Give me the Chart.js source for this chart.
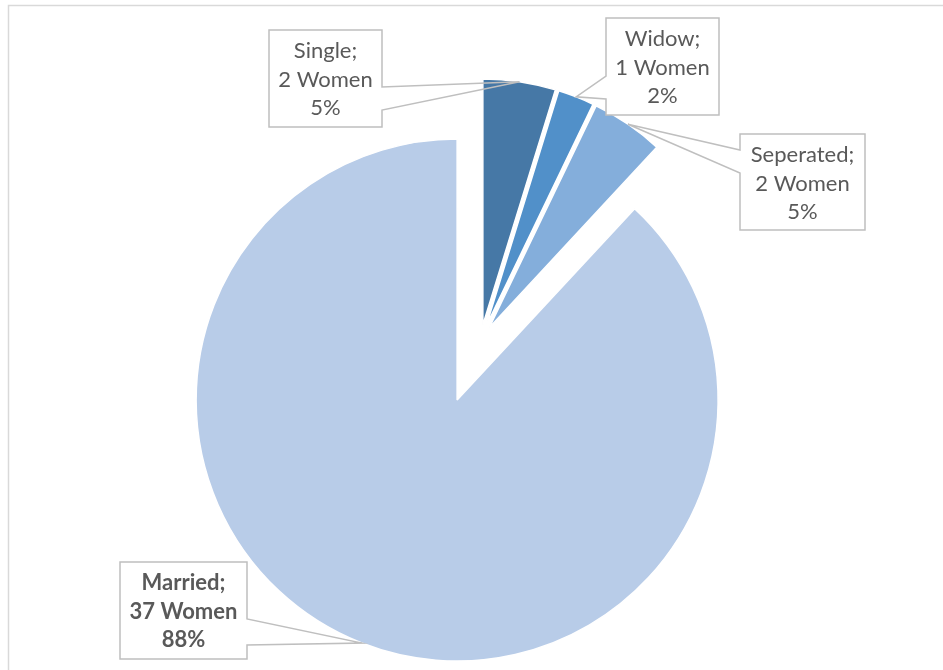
<!DOCTYPE html>
<html>
<head>
<meta charset="utf-8">
<script src="https://cdn.jsdelivr.net/npm/chart.js@4.4.1/dist/chart.umd.min.js"></script>
<style>
  html, body { margin: 0; padding: 0; background: #fff; }
  canvas { display: block; }
</style>
</head>
<body>
<canvas id="maritalChart" width="943" height="670"></canvas>
<script>
// Marital status of the women in the sample
const statuses = ['Single', 'Widow', 'Seperated', 'Married'];
const women = [2, 1, 2, 37];
const sliceColors = ['#4678A6', '#5190C9', '#84AEDB', '#B8CCE8'];

// how far each wedge is pulled out, and the radius it ends up drawn at
const sliceOffset = [63, 63, 63, 256];
const sliceRadius = [246, 246, 246, 261];

// label boxes with the side the pointer leaves from and where it meets the box (from box top)
const labelBoxes = [
    { x: 269, y: 30, w: 113, h: 97, side: 'right', base: [57, 80] },
    { x: 606, y: 18, w: 113, h: 97, side: 'left', base: [58, 81] },
    { x: 740, y: 134, w: 125, h: 96, side: 'left', base: [16, 39] },
    { x: 120, y: 562, w: 127, h: 97, side: 'right', base: [57, 83] }
];

const total = women.reduce((a, b) => a + b, 0);

// Chart.js gives one radius per dataset, so set each arc after layout.
// ArcElement.draw() adds offset/4 * (1 - sin(circumference)) to the radius and
// trims a little arc length, undo both here.
const sliceRadiusPlugin = {
    id: 'sliceRadius',
    afterDatasetsUpdate(chart) {
        chart.getDatasetMeta(0).data.forEach((arc, i) => {
            const push = sliceOffset[i] / 4;
            const grow = push * (1 - Math.sin(Math.min(Math.PI, arc.circumference)));
            arc.outerRadius = sliceRadius[i] - grow;
            const trim = grow / (2 * Math.PI * sliceRadius[i]);
            arc.startAngle -= trim;
            arc.endAngle += trim;
        });
    }
};

// light grey chart frame
const framePlugin = {
    id: 'frame',
    beforeDraw(chart) {
        const ctx = chart.ctx;
        ctx.save();
        ctx.strokeStyle = '#D9D9D9';
        ctx.lineWidth = 1.5;
        ctx.strokeRect(8.5, 5.5, 1000, 1000);
        ctx.restore();
    }
};

function wedgeTip(arc, i) {
    const mid = (arc.startAngle + arc.endAngle) / 2;
    const r = sliceOffset[i] / 4 + sliceRadius[i];
    return { x: arc.x + Math.cos(mid) * r, y: arc.y + Math.sin(mid) * r };
}

// callout labels: "Name; N Women / pct"
const calloutPlugin = {
    id: 'callouts',
    afterDatasetsDraw(chart) {
        const ctx = chart.ctx;
        const arcs = chart.getDatasetMeta(0).data;
        ctx.save();
        arcs.forEach((arc, i) => {
            const b = labelBoxes[i];
            const tip = wedgeTip(arc, i);

            ctx.fillStyle = '#ffffff';
            ctx.fillRect(b.x, b.y, b.w, b.h);

            ctx.beginPath();
            if (b.side === 'right') {
                const ex = b.x + b.w;
                ctx.moveTo(b.x, b.y);
                ctx.lineTo(ex, b.y);
                ctx.lineTo(ex, b.y + b.base[0]);
                ctx.lineTo(tip.x, tip.y);
                ctx.lineTo(ex, b.y + b.base[1]);
                ctx.lineTo(ex, b.y + b.h);
                ctx.lineTo(b.x, b.y + b.h);
            } else {
                ctx.moveTo(b.x + b.w, b.y);
                ctx.lineTo(b.x + b.w, b.y + b.h);
                ctx.lineTo(b.x, b.y + b.h);
                ctx.lineTo(b.x, b.y + b.base[1]);
                ctx.lineTo(tip.x, tip.y);
                ctx.lineTo(b.x, b.y + b.base[0]);
                ctx.lineTo(b.x, b.y);
            }
            ctx.closePath();
            ctx.strokeStyle = '#BFBFBF';
            ctx.lineWidth = 1.5;
            ctx.stroke();

            const lines = [
                statuses[i] + ';',
                women[i] + ' Women',
                Math.round(women[i] / total * 100) + '%'
            ];
            ctx.font = (statuses[i] === 'Married' ? 'bold ' : '') + '22px Lato';
            ctx.fillStyle = '#595959';
            ctx.textAlign = 'center';
            ctx.textBaseline = 'alphabetic';
            lines.forEach((t, k) => {
                ctx.fillText(t, b.x + b.w / 2, b.y + 28 + k * 28.5);
            });
        });
        ctx.restore();
    }
};

const data = {
    labels: statuses,
    datasets: [{
        data: women,
        backgroundColor: sliceColors,
        borderColor: '#ffffff',
        borderWidth: 1.5,
        offset: sliceOffset
    }]
};

const config = {
    type: 'pie',
    data: data,
    options: {
        responsive: false,
        animation: false,
        radius: 200,
        layout: {
            padding: { left: 18, top: 11, right: 0, bottom: 0 }
        },
        plugins: {
            legend: { display: false },
            tooltip: { enabled: false }
        }
    },
    plugins: [framePlugin, sliceRadiusPlugin, calloutPlugin]
};

const ctx = document.getElementById('maritalChart').getContext('2d');
new Chart(ctx, config);
</script>
</body>
</html>
